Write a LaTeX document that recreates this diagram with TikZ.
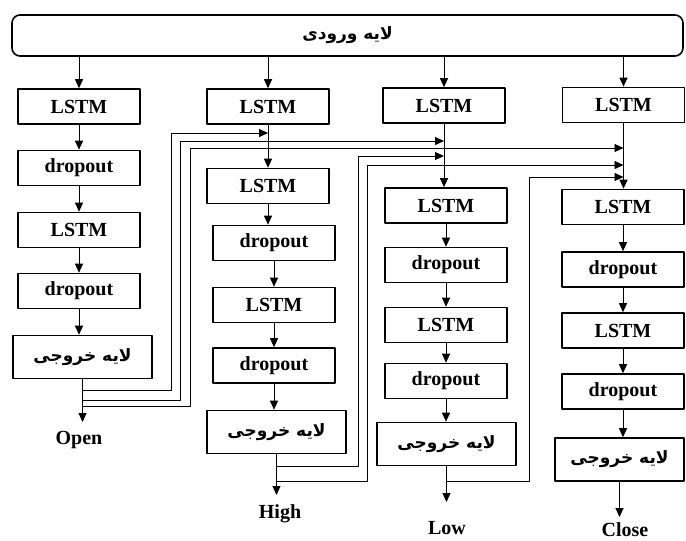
\documentclass[tikz,border=0pt]{standalone}
\usepackage{fontspec}
\setmainfont{Liberation Serif}
\newfontfamily\arabicfont[Script=Arabic]{DejaVu Sans}
\TeXXeTstate=1
\usetikzlibrary{arrows.meta}
\newcommand{\fa}[1]{{\arabicfont\beginR #1\endR}}
\begin{document}
\begin{tikzpicture}[x=1pt, y=-1pt, >={Triangle[length=9pt,width=8pt]}, line cap=round, line join=round,
	font=\fontsize{20}{24}\selectfont\bfseries,
	layer/.style={draw, line width=1.6pt, minimum width=122pt, minimum height=35pt, inner sep=0pt},
	outlayer/.style={layer, minimum width=139pt, minimum height=43pt, font=\fontsize{17}{20}\selectfont\bfseries},
	link/.style={->, line width=1pt},
	skip/.style={->, line width=0.8pt},
	lbl/.style={anchor=base, inner sep=0pt}]
	\useasboundingbox (0,0) rectangle (686,541);
	\node[outlayer, rounded corners=8pt, minimum width=671pt, minimum height=41pt] (in) at (347.5,35.5) {\fa{لایه ورودی}};
	\node[layer] (a1) at (79,106.5) {LSTM};
	\node[layer] (a2) at (79,168) {dropout};
	\node[layer] (a3) at (79,230) {LSTM};
	\node[layer] (a4) at (79,291) {dropout};
	\node[outlayer] (a5) at (82.5,357) {\fa{لایه خروجی}};
	\node[layer] (b1) at (268,106.5) {LSTM};
	\node[layer] (b2) at (268,186) {LSTM};
	\node[layer] (b3) at (274,243) {dropout};
	\node[layer] (b4) at (274,305) {LSTM};
	\node[layer] (b5) at (274,365.5) {dropout};
	\node[outlayer] (b6) at (276.5,432) {\fa{لایه خروجی}};
	\node[layer] (c1) at (444,105.5) {LSTM};
	\node[layer] (c2) at (446,205.5) {LSTM};
	\node[layer] (c3) at (446,265) {dropout};
	\node[layer] (c4) at (446,325) {LSTM};
	\node[layer] (c5) at (446,381) {dropout};
	\node[outlayer] (c6) at (446.5,444) {\fa{لایه خروجی}};
	\node[layer] (d1) at (623.5,105) {LSTM};
	\node[layer] (d2) at (623,207) {LSTM};
	\node[layer] (d3) at (623,269.5) {dropout};
	\node[layer] (d4) at (623,330.5) {LSTM};
	\node[layer] (d5) at (623,391.5) {dropout};
	\node[outlayer, minimum width=129pt] (d6) at (619.5,459.5) {\fa{لایه خروجی}};
	\node[lbl] (open) at (79,444) {Open};
	\node[lbl] (high) at (280,518) {High};
	\node[lbl] (low) at (447,534) {Low};
	\node[lbl] (close) at (625,536) {Close};
	\foreach \q in {a1,b1,c1,d1}
		\draw[link] (\q.north |- in.south) -- (\q.north);
	\foreach \p/\q in {a1/a2,a2/a3,a3/a4,a4/a5,b1/b2,b2/b3,b3/b4,b4/b5,b5/b6,c1/c2,c2/c3,c3/c4,c4/c5,c5/c6,d1/d2,d2/d3,d3/d4,d4/d5,d5/d6}
		\draw[link] (\p.south) -- (\p.south |- \q.north);
	\foreach \o/\t/\n in {a5/422/ta, b6/495/tb, c6/502/tc, d6/517/td}{
		\coordinate (\n) at (\o.south |- 0,\t);
		\draw[link] (\o.south) -- (\n);
	}
	\foreach \src/\yo/\xr/\yi/\dst in {a5/390/171/133/b1, a5/400/180/141/c1, a5/406/190/148/d1, b6/466/358/156/c1, b6/481/367/165/d1, c6/481/529/177/d1}
		\draw[skip] (\src.south |- 0,\yo) -| (\xr,\yi) -- (\dst.south |- 0,\yi);
\end{tikzpicture}
\end{document}
